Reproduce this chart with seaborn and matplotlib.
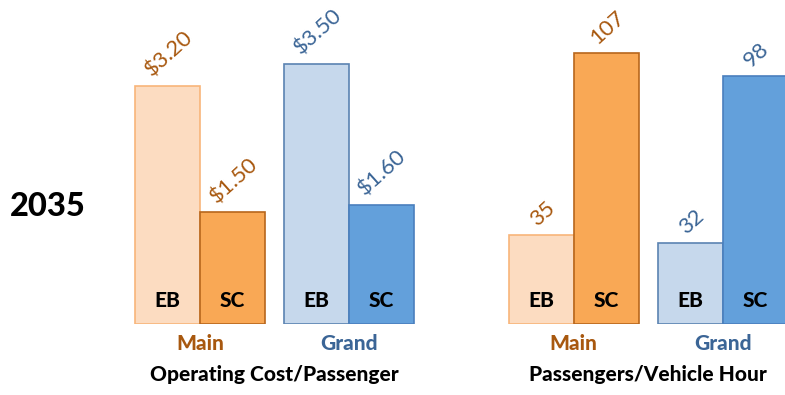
import pandas as pd
import matplotlib.pyplot as plt
import seaborn as sns

sns.set_theme(style='white')
plt.rcParams['font.family'] = ['Lato', 'DejaVu Sans']
plt.rcParams['text.color'] = 'black'

routes = ['Main', 'Grand']
buses = ['EB', 'SC']
cost = [3.20, 1.50, 3.50, 1.60]      # Main EB, Main SC, Grand EB, Grand SC
pvh = [35, 107, 32, 98]
cost_labels = ['$3.20', '$1.50', '$3.50', '$1.60']
pvh_labels = ['35', '107', '32', '98']

fill = {('Main', 'EB'): '#fcdcc1', ('Main', 'SC'): '#f9a855',
        ('Grand', 'EB'): '#c6d8ec', ('Grand', 'SC'): '#63a0db'}
edge = {('Main', 'EB'): '#f8b57a', ('Main', 'SC'): '#b8661c',
        ('Grand', 'EB'): '#5b83b2', ('Grand', 'SC'): '#4a7fbd'}
text_col = {'Main': '#a8580f', 'Grand': '#3b6596'}
BOLD = 'black'

df = pd.DataFrame({
    'route': [r for r in routes for b in buses],
    'bus': [b for r in routes for b in buses],
    'cost': cost,
    'pvh': pvh,
})

W, H = 785, 395
fig = plt.figure(figsize=(W / 100, H / 100), dpi=100)

def make_ax(left_px, ymax):
    # x spans -0.6..1.6 at ~149 px per category, baseline at 324 px from top
    return fig.add_axes([left_px / W, 71 / H, 327.8 / W, 304 / H], ylim=(0, ymax))

def draw(ax, col, labels, xlabel):
    sns.barplot(data=df, x='route', y=col, hue='bus', order=routes, hue_order=buses,
                width=0.872, saturation=1, legend=False, errorbar=None, ax=ax)
    for bus, cont in zip(buses, ax.containers):
        for route, bar in zip(routes, cont):
            bar.set_facecolor(fill[(route, bus)])
            bar.set_edgecolor(edge[(route, bus)])
            bar.set_linewidth(1.2)
            cx = bar.get_x() + bar.get_width() / 2
            i = routes.index(route) * 2 + buses.index(bus)
            ax.annotate(labels[i], (cx, bar.get_height()), xytext=(1, 4),
                        textcoords='offset points', rotation=42, ha='center',
                        va='bottom', fontsize=16, color=text_col[route],
                        annotation_clip=False)
            ax.annotate(bus, (cx, 0), xytext=(0, 17), textcoords='offset points',
                        ha='center', va='center', fontsize=15, fontweight=BOLD,
                        color='black')
    ax.set_xlim(-0.6, 1.6)
    ax.set_yticks([])
    ax.set_ylabel('')
    ax.tick_params(axis='x', length=0, pad=7)
    for t in ax.get_xticklabels():
        t.set_color(text_col[t.get_text()])
        t.set_fontweight(BOLD)
        t.set_fontsize(15)
    ax.set_xlabel(xlabel, fontsize=15, fontweight=BOLD, labelpad=9, color='black')
    sns.despine(ax=ax, left=True, bottom=True)
    ax.patch.set_alpha(0)

ax1 = make_ax(110.6, 304 / 74.4)
draw(ax1, 'cost', cost_labels, 'Operating Cost/Passenger')
ax2 = make_ax(484.2, 304 / 2.53)
draw(ax2, 'pvh', pvh_labels, 'Passengers/Vehicle Hour')

fig.text(10 / W, (H - 206) / H, '2035', fontsize=23.5, fontweight=BOLD,
         ha='left', va='center', color='black')

fig.savefig('out.png', dpi=100)
plt.close(fig)
